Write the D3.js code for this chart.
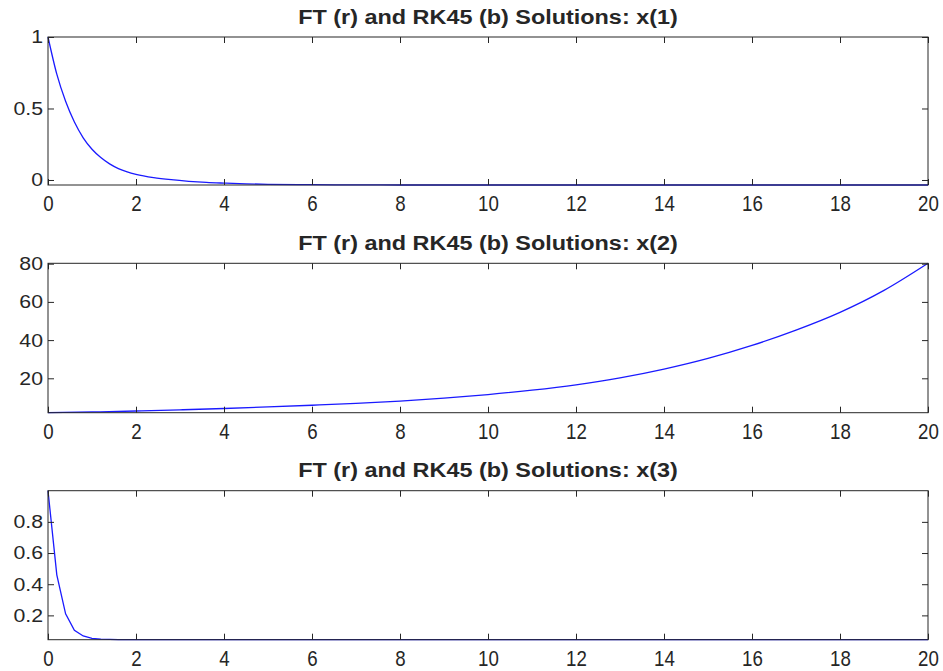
<!DOCTYPE html>
<html>
<head>
<meta charset="utf-8">
<script src="https://cdn.jsdelivr.net/npm/d3@7"></script>
<style>
  body { margin: 0; background: #fff; }
  text { font-family: "Liberation Sans", Arial, sans-serif; fill: #262626; }
</style>
</head>
<body>
<svg id="chart" width="943" height="671"></svg>
<script>
// time grid shared by the x axes
var xTicks = [0, 2, 4, 6, 8, 10, 12, 14, 16, 18, 20];

// x(1): decays fast, settles a hair below zero
var t1 = [0, 0.2, 0.4, 0.6, 0.8, 1.0, 1.2, 1.4, 1.6, 1.8, 2.0, 2.4, 2.8, 3.2, 3.6, 4, 4.5, 5, 6, 7, 8, 10, 12, 14, 16, 18, 20];
var x1 = [1, 0.74, 0.55, 0.405, 0.295, 0.215, 0.157, 0.113, 0.08, 0.057, 0.04, 0.017, 0.002, -0.009, -0.017, -0.022, -0.027, -0.030, -0.033, -0.034, -0.035, -0.035, -0.035, -0.035, -0.035, -0.035, -0.035];
var yTicks1 = [0, 0.5, 1];

// x(2): grows
var t2 = [0, 1, 2, 3, 4, 5, 6, 7, 8, 9, 10, 11, 12, 13, 14, 15, 16, 17, 18, 19, 20];
var x2 = [2.0, 2.4, 2.9, 3.5, 4.2, 5.0, 5.9, 6.9, 8.1, 9.6, 11.5, 13.8, 16.6, 20.2, 24.8, 30.4, 37.2, 45.2, 54.5, 66.0, 80.2];
var yTicks2 = [20, 40, 60, 80];

// x(3): very fast decay to a small floor
var t3 = [0, 0.2, 0.4, 0.6, 0.8, 1.0, 1.2, 1.4, 1.6, 2, 4, 6, 8, 10, 12, 14, 16, 18, 20];
var x3 = [1.0, 0.46, 0.21, 0.105, 0.068, 0.053, 0.048, 0.046, 0.045, 0.044, 0.044, 0.044, 0.044, 0.044, 0.044, 0.044, 0.044, 0.044, 0.044];
var yTicks3 = [0.2, 0.4, 0.6, 0.8];

var titles = ["FT (r) and RK45 (b) Solutions: x(1)", "FT (r) and RK45 (b) Solutions: x(2)", "FT (r) and RK45 (b) Solutions: x(3)"];

var panels = [
  { t: t1, v: x1, ticks: yTicks1, top: 37, bottom: 185, smooth: true },
  { t: t2, v: x2, ticks: yTicks2, top: 263.3, bottom: 412.7, smooth: true },
  { t: t3, v: x3, ticks: yTicks3, top: 490.7, bottom: 639.7, smooth: false }
];

var left = 48, right = 928;
var svg = d3.select("#chart");

var xScale = d3.scaleLinear().domain([0, 20]).range([left, right]);

// stretch or squeeze a text to match the look of the original
function squash(sel, k) {
  sel.each(function() {
    var w = this.getComputedTextLength();
    d3.select(this).attr("textLength", w * k).attr("lengthAdjust", "spacingAndGlyphs");
  });
}

panels.forEach(function(p, i) {
  var yScale = d3.scaleLinear().domain(d3.extent(p.v)).range([p.bottom, p.top]);
  var g = svg.append("g");

  // curve
  var line = d3.line()
    .x(function(d, j) { return xScale(p.t[j]); })
    .y(function(d) { return yScale(d); })
    .curve(p.smooth ? d3.curveMonotoneX : d3.curveLinear);
  g.append("path")
    .datum(p.v)
    .attr("d", line)
    .attr("fill", "none")
    .attr("stroke", "#1a1aff")
    .attr("stroke-width", 1.3);

  // inward ticks on all four sides
  var bottomAxis = g.append("g")
    .attr("transform", "translate(0," + p.bottom + ")")
    .call(d3.axisBottom(xScale).tickValues(xTicks).tickSizeInner(-6).tickSizeOuter(0).tickPadding(10.5));
  g.append("g")
    .attr("transform", "translate(0," + p.top + ")")
    .call(d3.axisTop(xScale).tickValues(xTicks).tickSizeInner(-6).tickSizeOuter(0).tickFormat(""));
  var leftAxis = g.append("g")
    .attr("transform", "translate(" + left + ",0)")
    .call(d3.axisLeft(yScale).tickValues(p.ticks).tickSizeInner(-6).tickSizeOuter(0).tickPadding(5)
      .tickFormat(function(d) { return String(d); }));
  g.append("g")
    .attr("transform", "translate(" + right + ",0)")
    .call(d3.axisRight(yScale).tickValues(p.ticks).tickSizeInner(-6).tickSizeOuter(0).tickFormat(""));

  g.selectAll(".domain").remove();
  g.selectAll(".tick line").attr("stroke", "#262626");
  g.selectAll(".tick text").attr("font-family", null).attr("fill", "#262626");

  bottomAxis.selectAll("text").attr("font-size", 22);
  leftAxis.selectAll("text").attr("font-size", 18.5);
  squash(bottomAxis.selectAll("text"), 0.85);
  squash(leftAxis.selectAll("text"), 1.15);

  // box
  g.append("rect")
    .attr("x", left).attr("y", p.top)
    .attr("width", right - left).attr("height", p.bottom - p.top)
    .attr("fill", "none")
    .attr("stroke", "#262626")
    .attr("stroke-width", 1);

  var title = g.append("text")
    .attr("x", (left + right) / 2)
    .attr("y", p.top - 13.5)
    .attr("text-anchor", "middle")
    .attr("font-size", 19.5)
    .attr("font-weight", "bold")
    .attr("fill", "#000")
    .text(titles[i]);
  squash(title, 1.2);
});
</script>
</body>
</html>
